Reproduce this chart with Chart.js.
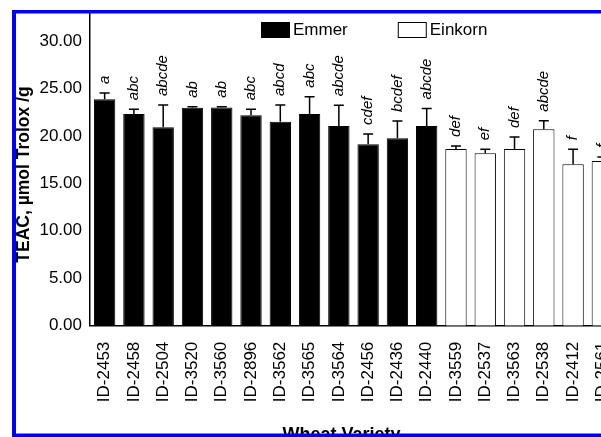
<!DOCTYPE html>
<html>
<head>
<meta charset="utf-8">
<script src="https://cdn.jsdelivr.net/npm/chart.js@4/dist/chart.umd.min.js"></script>
<style>
  html, body { margin: 0; padding: 0; background: #fff; overflow: hidden; }
  #wrap { width: 601px; height: 437px; overflow: hidden; position: relative; }
  #c { display: block; width: 620px; height: 437px; }
</style>
</head>
<body>
<div id="wrap"><canvas id="c" width="620" height="437"></canvas></div>
<script>
// TEAC antioxidant capacity per wheat variety, emmer vs einkorn
const VARIETIES = ['ID-2453', 'ID-2458', 'ID-2504', 'ID-3520', 'ID-3560', 'ID-2896', 'ID-3562', 'ID-3565',
  'ID-3564', 'ID-2456', 'ID-2436', 'ID-2440', 'ID-3559', 'ID-2537', 'ID-3563', 'ID-2538', 'ID-2412', 'ID-2561'];
const EMMER = [23.86, 22.31, 20.9, 22.97, 22.98, 22.17, 21.5, 22.31, 21.04, 19.11, 19.75, 21.04];
const EMMER_SD = [0.66, 0.5, 2.35, 0.1, 0.1, 0.63, 1.75, 1.82, 2.2, 1.1, 1.82, 1.85];
const EMMER_SIG = ['a', 'abc', 'abcde', 'ab', 'ab', 'abc', 'abcd', 'abc', 'abcde', 'cdef', 'bcdef', 'abcde'];
const EINKORN = [18.62, 18.17, 18.62, 20.7, 17.0, 17.35];
const EINKORN_SD = [0.32, 0.42, 1.26, 0.9, 1.58, 0.43];
const EINKORN_SIG = ['def', 'ef', 'def', 'abcde', 'f', 'f'];
const Y_TICKS = [0, 5, 10, 15, 20, 25, 30];

const FONT = '"Liberation Sans", Arial, Helvetica, sans-serif';
Chart.defaults.font.family = FONT;
Chart.defaults.color = '#000';

const nE = EMMER.length;
const pad = (arr, before) => VARIETIES.map((_, i) => before ? (i < nE ? arr[i] : null) : (i < nE ? null : arr[i - nE]));
const noPad = s => { s.paddingLeft = s.paddingRight = s.paddingTop = s.paddingBottom = 0; };

// whiskers (upper SD only) + significance letters above each bar
const errBars = {
  id: 'errBars',
  afterDatasetsDraw(chart) {
    const ctx = chart.ctx, y = chart.scales.y;
    chart.data.datasets.forEach((ds, di) => {
      chart.getDatasetMeta(di).data.forEach((bar, i) => {
        const v = ds.data[i]; if (v == null) return;
        const top = y.getPixelForValue(v + ds.sd[i]);
        ctx.save();
        ctx.strokeStyle = '#000'; ctx.lineWidth = 1.5;
        ctx.beginPath(); ctx.moveTo(bar.x, bar.y); ctx.lineTo(bar.x, top);
        ctx.moveTo(bar.x - 5, top); ctx.lineTo(bar.x + 5, top); ctx.stroke();
        ctx.translate(bar.x, top - 9); ctx.rotate(-Math.PI / 2);
        ctx.fillStyle = '#000'; ctx.font = 'italic 15px ' + FONT;
        ctx.textAlign = 'left'; ctx.textBaseline = 'middle';
        ctx.fillText(ds.sig[i], 0, 0);
        ctx.restore();
      });
    });
  }
};

// legend boxes, axis titles and the blue frame
const extras = {
  id: 'extras',
  afterDraw(chart) {
    const ctx = chart.ctx;
    ctx.save();
    ctx.font = '17px ' + FONT; ctx.textBaseline = 'middle'; ctx.textAlign = 'left';
    let x = 261;
    chart.data.datasets.forEach(ds => {
      ctx.fillStyle = ds.backgroundColor; ctx.fillRect(x, 22, 29, 16);
      ctx.strokeStyle = '#000'; ctx.lineWidth = 1; ctx.strokeRect(x + 0.5, 22.5, 28, 15);
      ctx.fillStyle = '#000'; ctx.fillText(ds.label, x + 32, 30.5);
      x += 32 + ctx.measureText(ds.label).width + 50;
    });
    ctx.font = 'bold 18px ' + FONT; ctx.textAlign = 'center'; ctx.textBaseline = 'alphabetic';
    ctx.fillText('Wheat Variety', 341.5, 439.5);
    ctx.save();
    ctx.translate(29, 174.5); ctx.rotate(-Math.PI / 2);
    ctx.font = 'bold 17.5px ' + FONT;
    ctx.fillText('TEAC, µmol Trolox /g', 0, 0);
    ctx.restore();
    ctx.fillStyle = '#0000ff';
    ctx.fillRect(12, 10, 4, 427);
    ctx.fillRect(12, 10, chart.width, 3.5);
    ctx.fillRect(12, 433.5, chart.width, 3.5);
    ctx.restore();
  }
};

new Chart(document.getElementById('c'), {
  type: 'bar',
  data: {
    labels: VARIETIES,
    datasets: [
      { label: 'Emmer', data: pad(EMMER, true), sd: pad(EMMER_SD, true), sig: pad(EMMER_SIG, true),
        backgroundColor: '#000', borderColor: '#000', borderWidth: 1 },
      { label: 'Einkorn', data: pad(EINKORN, false), sd: pad(EINKORN_SD, false), sig: pad(EINKORN_SIG, false),
        backgroundColor: '#fff', borderColor: '#000', borderWidth: 1 }
    ]
  },
  options: {
    responsive: false, animation: false,
    layout: { padding: { top: 12.5, left: 0, right: 3, bottom: 0 } },
    datasets: { bar: { grouped: false, barPercentage: 0.73, categoryPercentage: 1 } },
    plugins: { legend: { display: false }, tooltip: { enabled: false } },
    scales: {
      x: {
        grid: { display: false, drawTicks: false },
        border: { color: '#000', width: 1.5 },
        ticks: { font: { size: 17 }, minRotation: 90, maxRotation: 90, autoSkip: false, padding: 16 },
        afterFit: s => { s.height = 111.3; noPad(s); }
      },
      y: {
        min: 0, max: 33,
        afterBuildTicks: s => { s.ticks = Y_TICKS.map(v => ({ value: v })); },
        grid: { display: false, drawTicks: false },
        border: { color: '#000', width: 1.5 },
        ticks: { font: { size: 17 }, padding: 8, callback: v => v.toFixed(2) },
        afterFit: s => { s.width = 90; noPad(s); }
      }
    }
  },
  plugins: [errBars, extras]
});
</script>
</body>
</html>
